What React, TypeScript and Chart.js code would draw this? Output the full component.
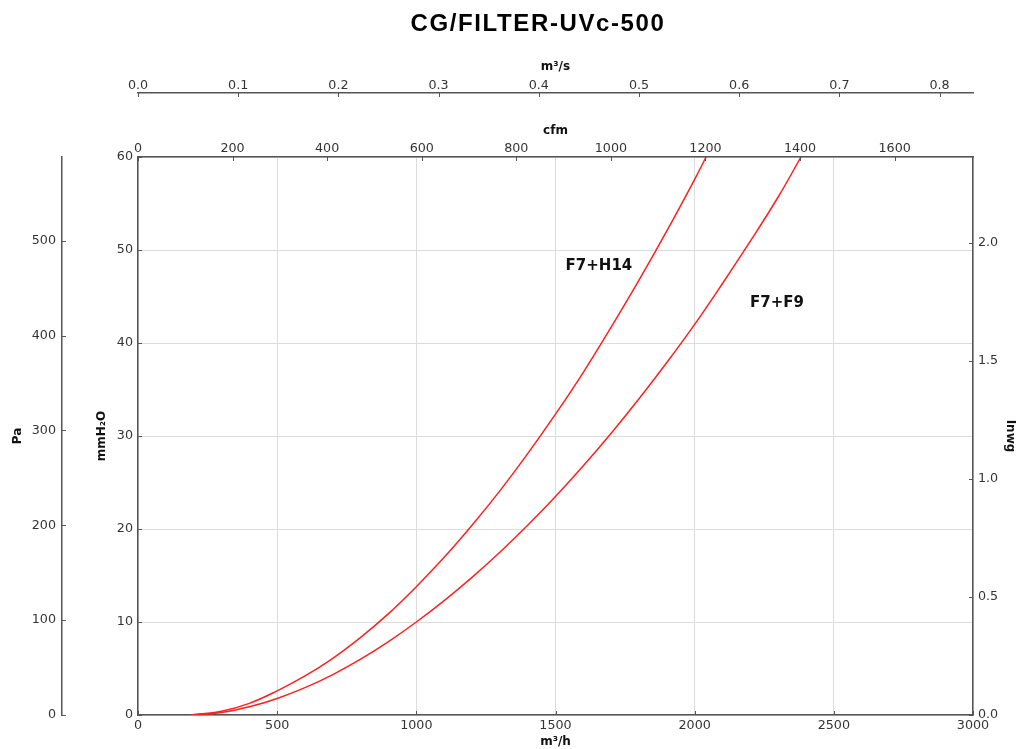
import React, { useEffect, useRef } from 'react';
import { Chart, registerables } from 'chart.js';

Chart.register(...registerables);

// ---- data ----
const chartTitle = 'CG/FILTER-UVc-500';
const seriesNames = ['F7+H14', 'F7+F9'];
const flowF7H14 = [190, 300, 400, 500, 600, 700, 800, 900, 1000, 1100, 1200, 1300, 1400, 1500, 1600, 1700, 1800, 1900, 2000, 2041];
const pressF7H14 = [0, 0.4, 1.25, 2.6, 4.2, 6.1, 8.35, 10.9, 13.8, 16.95, 20.4, 24.1, 28.1, 32.35, 36.85, 41.7, 46.75, 52.05, 57.6, 60];
const flowF7F9 = [190, 300, 400, 500, 600, 700, 800, 900, 1000, 1100, 1200, 1300, 1400, 1500, 1600, 1700, 1800, 1900, 2000, 2100, 2200, 2300, 2382];
const pressF7F9 = [0, 0.27, 0.88, 1.78, 2.94, 4.35, 6.0, 7.89, 10, 12.3, 14.8, 17.5, 20.4, 23.5, 26.8, 30.3, 34.0, 37.9, 42.0, 46.4, 50.95, 55.7, 60];
const labelFlow = [1656, 2296];
const labelPress = [48.3, 44.3];

const flowTicks = [0, 500, 1000, 1500, 2000, 2500, 3000];
const cfmTicks = [0, 200, 400, 600, 800, 1000, 1200, 1400, 1600];
const m3sTicks = [0, 0.1, 0.2, 0.3, 0.4, 0.5, 0.6, 0.7, 0.8];
const mmTicks = [0, 10, 20, 30, 40, 50, 60];
const paTicks = [0, 100, 200, 300, 400, 500];
const inwgTicks = [0, 0.5, 1.0, 1.5, 2.0];

const FLOW_MAX = 3000; // m3/h
const PRESS_MAX = 60; // mmH2O
const PA_PER_MM = 9.80665;
const MM_PER_INWG = 25.4;
const M3H_PER_CFM = 1.69901;
const M3H_PER_M3S = 3600;

const TICK_FONT = { family: 'DejaVu Sans', size: 12.7 };
const TITLE_FONT = { family: 'DejaVu Sans', size: 12, weight: 'bold' as const };
const AXIS_COLOR = '#555';
const TEXT_COLOR = '#333';

const fix = (w: number | null, h: number | null) => (s: any) => {
  if (w !== null) s.width = w;
  if (h !== null) s.height = h;
};
const setTicks = (vals: number[]) => (s: any) => {
  s.ticks = vals.map((value) => ({ value }));
};

const tickMarksPlugin = {
  id: 'tickMarks',
  afterDraw(chart: any) {
    const ctx = chart.ctx;
    ctx.save();
    ctx.strokeStyle = AXIS_COLOR;
    ctx.lineWidth = 1;
    const L = 4;
    Object.keys(chart.scales).forEach((id) => {
      const s = chart.scales[id];
      s.ticks.forEach((t: any) => {
        const p = Math.round(s.getPixelForValue(t.value)) + 0.5;
        ctx.beginPath();
        if (s.position === 'bottom') { ctx.moveTo(p, s.top); ctx.lineTo(p, s.top - L); }
        else if (s.position === 'top') { ctx.moveTo(p, s.bottom); ctx.lineTo(p, s.bottom + L); }
        else if (s.position === 'left') { ctx.moveTo(s.right, p); ctx.lineTo(s.right + L, p); }
        else if (s.position === 'right') { ctx.moveTo(s.left, p); ctx.lineTo(s.left - L, p); }
        ctx.stroke();
      });
    });
    ctx.restore();
  },
};

const annotationsPlugin = {
  id: 'annotations',
  afterDatasetsDraw(chart: any) {
    const ctx = chart.ctx;
    const xs = chart.scales.x;
    const ys = chart.scales.y;
    ctx.save();
    ctx.font = 'bold 15px "DejaVu Sans"';
    ctx.fillStyle = '#111';
    ctx.textAlign = 'center';
    ctx.textBaseline = 'middle';
    seriesNames.forEach((n, i) => {
      ctx.fillText(n, xs.getPixelForValue(labelFlow[i]), ys.getPixelForValue(labelPress[i]));
    });
    ctx.restore();
  },
};

const titlePlugin = {
  id: 'customTitle',
  afterDraw(chart: any) {
    const ctx = chart.ctx;
    ctx.save();
    ctx.font = 'bold 24px "Liberation Sans", Arial, sans-serif';
    (ctx as any).letterSpacing = '1.6px';
    ctx.fillStyle = '#000';
    ctx.textAlign = 'center';
    ctx.textBaseline = 'middle';
    ctx.fillText(chartTitle, 538, 24);
    ctx.restore();
  },
};

const fmtInt = (v: any) => String(Math.round(Number(v)));
const fmt1 = (v: any) => Number(v).toFixed(1);

export default function App() {
  const ref = useRef<HTMLCanvasElement | null>(null);

  useEffect(() => {
    document.body.style.margin = '0';
    document.body.style.overflow = 'hidden';
    const canvas = ref.current;
    if (!canvas) return;
    const toPts = (xs: number[], ys: number[]) => xs.map((x, i) => ({ x, y: ys[i] }));
    const lineDs = (label: string, xs: number[], ys: number[]) => ({
      label,
      data: toPts(xs, ys),
      borderColor: '#ff2020',
      borderWidth: 1.5,
      pointRadius: 0,
      tension: 0.4,
      cubicInterpolationMode: 'default',
      xAxisID: 'x',
      yAxisID: 'y',
    });
    const chart = new Chart(canvas, {
      type: 'line',
      data: {
        datasets: [
          lineDs(seriesNames[0], flowF7H14, pressF7H14),
          lineDs(seriesNames[1], flowF7F9, pressF7F9),
        ],
      },
      options: {
        responsive: false,
        animation: false,
        devicePixelRatio: 1,
        layout: { padding: { top: 50, left: 0, right: 0, bottom: 0 } },
        plugins: {
          legend: { display: false },
          title: { display: false },
          tooltip: { enabled: false },
        },
        scales: {
          x: {
            type: 'linear',
            axis: 'x',
            position: 'bottom',
            min: 0,
            max: FLOW_MAX,
            grid: { color: '#dcdcdc', lineWidth: 1, drawTicks: false },
            border: { color: AXIS_COLOR, width: 1.5 },
            ticks: { font: TICK_FONT, color: TEXT_COLOR, padding: 3, maxRotation: 0, autoSkip: false, callback: fmtInt },
            afterBuildTicks: setTicks(flowTicks),
            title: { display: true, text: 'm³/h', font: TITLE_FONT, color: '#111', padding: { top: 0, bottom: 0 } },
            afterFit: fix(null, 34),
          },
          xCfm: {
            type: 'linear',
            axis: 'x',
            position: 'top',
            weight: 1,
            min: 0,
            max: FLOW_MAX / M3H_PER_CFM,
            grid: { display: false, drawTicks: false },
            border: { color: AXIS_COLOR, width: 1.5 },
            ticks: { font: TICK_FONT, color: TEXT_COLOR, padding: 1, maxRotation: 0, autoSkip: false, callback: fmtInt },
            afterBuildTicks: setTicks(cfmTicks),
            title: { display: true, text: 'cfm', font: TITLE_FONT, color: '#111', padding: { top: 31, bottom: 0 } },
            afterFit: fix(null, 64),
          },
          xMs: {
            type: 'linear',
            axis: 'x',
            position: 'top',
            weight: 2,
            min: 0,
            max: FLOW_MAX / M3H_PER_M3S,
            grid: { display: false, drawTicks: false },
            border: { color: AXIS_COLOR, width: 1.5 },
            ticks: { font: TICK_FONT, color: TEXT_COLOR, padding: 0, maxRotation: 0, autoSkip: false, callback: fmt1 },
            afterBuildTicks: setTicks(m3sTicks),
            title: { display: true, text: 'm³/s', font: TITLE_FONT, color: '#111', padding: { top: 9.5, bottom: 0 } },
            afterFit: fix(null, 43),
          },
          y: {
            type: 'linear',
            axis: 'y',
            position: 'left',
            weight: 1,
            min: 0,
            max: PRESS_MAX,
            grid: { color: '#dcdcdc', lineWidth: 1, drawTicks: false },
            border: { color: AXIS_COLOR, width: 1.5 },
            ticks: { font: TICK_FONT, color: TEXT_COLOR, padding: 5, autoSkip: false, callback: fmtInt },
            afterBuildTicks: setTicks(mmTicks),
            title: { display: true, text: 'mmH₂O', font: TITLE_FONT, color: '#111', padding: { top: 33, bottom: 0 } },
            afterFit: fix(76, null),
          },
          yPa: {
            type: 'linear',
            axis: 'y',
            position: 'left',
            weight: 2,
            min: 0,
            max: PRESS_MAX * PA_PER_MM,
            grid: { display: false, drawTicks: false },
            border: { color: AXIS_COLOR, width: 1.5 },
            ticks: { font: TICK_FONT, color: TEXT_COLOR, padding: 6, autoSkip: false, callback: fmtInt },
            afterBuildTicks: setTicks(paTicks),
            title: { display: true, text: 'Pa', font: TITLE_FONT, color: '#111', padding: { top: 10.8, bottom: 0 } },
            afterFit: fix(62, null),
          },
          yIn: {
            type: 'linear',
            axis: 'y',
            position: 'right',
            min: 0,
            max: PRESS_MAX / MM_PER_INWG,
            grid: { display: false, drawTicks: false },
            border: { color: AXIS_COLOR, width: 1.5 },
            ticks: { font: TICK_FONT, color: TEXT_COLOR, padding: 5, autoSkip: false, callback: fmt1 },
            afterBuildTicks: setTicks(inwgTicks),
            title: { display: true, text: 'Inwg', font: TITLE_FONT, color: '#111', padding: { top: 3.8, bottom: 0 } },
            afterFit: fix(48, null),
          },
        },
      } as any,
      plugins: [tickMarksPlugin, annotationsPlugin, titlePlugin],
    });
    return () => chart.destroy();
  }, []);

  return (
    <div style={{ width: 1021, height: 749 }}>
      <canvas ref={ref} width={1021} height={749} />
    </div>
  );
}
